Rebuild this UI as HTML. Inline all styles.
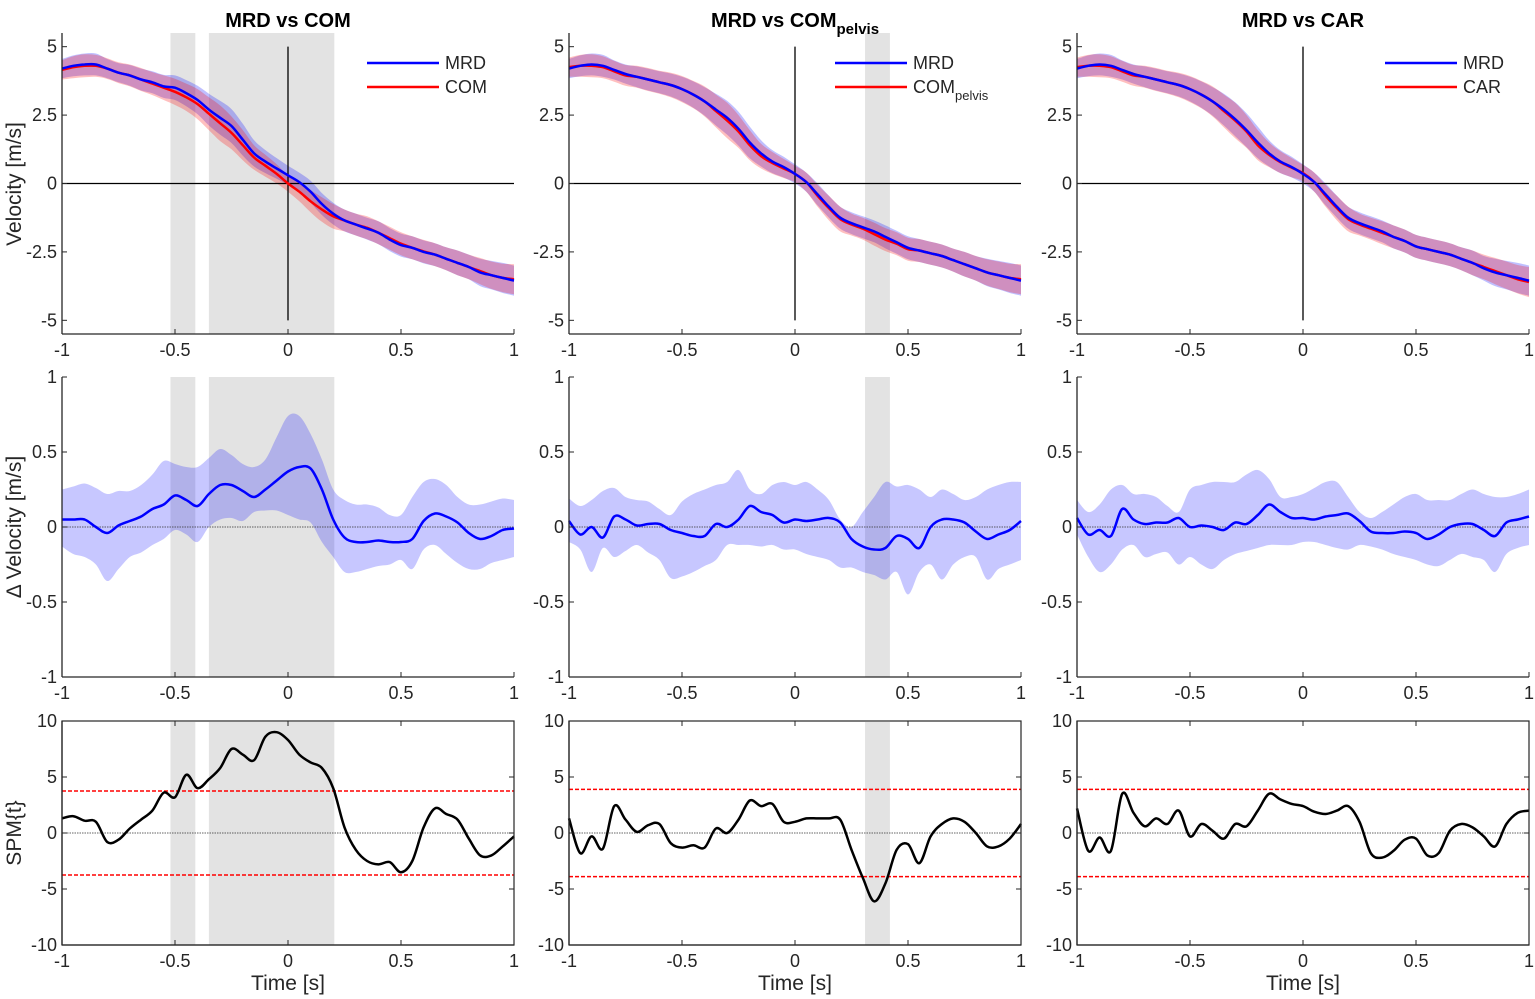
<!DOCTYPE html>
<html><head><meta charset="utf-8"><style>
html,body{margin:0;padding:0;background:#fff;}
svg{display:block;font-family:"Liberation Sans",Arial,sans-serif;}
</style></head><body>
<svg id="fig" width="1535" height="999" viewBox="0 0 1535 999"></svg>
<script>
// ===== data =====
const times = [-1,-0.95,-0.9,-0.85,-0.8,-0.75,-0.7,-0.65,-0.6,-0.55,-0.5,-0.45,-0.4,-0.35,-0.3,-0.25,-0.2,-0.15,-0.1,-0.05,0,0.05,0.1,0.15,0.2,0.25,0.3,0.35,0.4,0.45,0.5,0.55,0.6,0.65,0.7,0.75,0.8,0.85,0.9,0.95,1];
const colTitles = ["MRD vs COM","MRD vs COM","MRD vs CAR"];
const xTicks = [-1,-0.5,0,0.5,1];
const xTickLabels = ["-1","-0.5","0","0.5","1"];
const velTicks = [5,2.5,0,-2.5,-5];
const velTickLabels = ["5","2.5","0","-2.5","-5"];
const dTicks = [1,0.5,0,-0.5,-1];
const dTickLabels = ["1","0.5","0","-0.5","-1"];
const spmTicks = [10,5,0,-5,-10];
const spmTickLabels = ["10","5","0","-5","-10"];
const clusters1 = [[-0.52,-0.41],[-0.35,0.205]];
const clusters2 = [[0.31,0.42]];
const clusters3 = [];
const thresholds = [3.75,3.9,3.9];

const mrd1 = [4.2,4.3,4.35,4.35,4.2,4.05,3.95,3.8,3.7,3.55,3.5,3.3,3.05,2.7,2.4,2.1,1.6,1.1,0.8,0.55,0.3,0.05,-0.3,-0.75,-1.1,-1.35,-1.5,-1.65,-1.8,-2.05,-2.25,-2.35,-2.5,-2.6,-2.75,-2.9,-3.05,-3.25,-3.35,-3.45,-3.55];
const com1 = [4.15,4.25,4.3,4.3,4.2,4.05,3.95,3.8,3.65,3.5,3.35,3.15,2.9,2.55,2.2,1.85,1.4,0.95,0.65,0.35,0.0,-0.3,-0.65,-0.95,-1.2,-1.35,-1.5,-1.62,-1.8,-2.0,-2.2,-2.35,-2.48,-2.6,-2.75,-2.9,-3.05,-3.2,-3.35,-3.45,-3.5];
const mrd2 = [4.2,4.3,4.35,4.3,4.15,4.0,3.9,3.8,3.7,3.6,3.45,3.25,3.0,2.7,2.4,2.0,1.5,1.1,0.8,0.6,0.35,0.05,-0.4,-0.85,-1.25,-1.45,-1.6,-1.75,-1.95,-2.15,-2.35,-2.45,-2.55,-2.65,-2.8,-2.95,-3.1,-3.25,-3.35,-3.45,-3.55];
const pel2 = [4.25,4.3,4.3,4.25,4.1,3.95,3.9,3.8,3.7,3.6,3.45,3.25,3.0,2.65,2.3,1.9,1.4,1.0,0.75,0.55,0.35,0.05,-0.45,-0.9,-1.3,-1.5,-1.65,-1.85,-2.05,-2.2,-2.4,-2.45,-2.55,-2.65,-2.8,-2.95,-3.1,-3.25,-3.35,-3.45,-3.5];
const mrd3 = [4.2,4.3,4.35,4.3,4.15,4.0,3.9,3.8,3.7,3.6,3.45,3.25,3.0,2.7,2.35,1.95,1.5,1.1,0.8,0.6,0.35,0.05,-0.4,-0.85,-1.25,-1.45,-1.6,-1.75,-1.95,-2.1,-2.3,-2.4,-2.5,-2.6,-2.75,-2.9,-3.1,-3.25,-3.35,-3.45,-3.55];
const car3 = [4.25,4.3,4.3,4.25,4.1,3.95,3.9,3.8,3.7,3.6,3.45,3.25,3.0,2.65,2.3,1.9,1.4,1.05,0.78,0.58,0.38,0.05,-0.45,-0.9,-1.3,-1.5,-1.65,-1.8,-1.95,-2.1,-2.3,-2.4,-2.5,-2.6,-2.75,-2.9,-3.05,-3.2,-3.35,-3.5,-3.6];
const sdA = [0.35,0.38,0.4,0.4,0.35,0.35,0.38,0.4,0.4,0.42,0.45,0.48,0.52,0.58,0.62,0.62,0.58,0.48,0.42,0.38,0.35,0.35,0.4,0.4,0.4,0.4,0.4,0.4,0.42,0.42,0.42,0.42,0.42,0.42,0.42,0.45,0.45,0.5,0.52,0.55,0.55];
const sdB = [0.35,0.4,0.42,0.4,0.38,0.38,0.4,0.42,0.42,0.45,0.48,0.5,0.55,0.6,0.65,0.6,0.55,0.45,0.4,0.35,0.3,0.35,0.4,0.45,0.45,0.4,0.4,0.42,0.42,0.42,0.42,0.42,0.42,0.42,0.42,0.45,0.45,0.48,0.5,0.52,0.55];

const d1 = [0.05,0.05,0.05,0.0,-0.04,0.01,0.04,0.07,0.12,0.15,0.21,0.18,0.14,0.22,0.28,0.28,0.24,0.2,0.25,0.31,0.37,0.4,0.39,0.25,0.05,-0.07,-0.1,-0.1,-0.09,-0.1,-0.1,-0.08,0.04,0.09,0.07,0.03,-0.04,-0.08,-0.06,-0.02,-0.01];
const d1Up = [0.25,0.27,0.29,0.26,0.22,0.24,0.24,0.28,0.35,0.44,0.42,0.4,0.4,0.46,0.52,0.48,0.42,0.4,0.45,0.6,0.74,0.74,0.62,0.45,0.25,0.18,0.15,0.15,0.13,0.08,0.08,0.2,0.3,0.32,0.28,0.2,0.15,0.15,0.17,0.19,0.18];
const d1Lo = [-0.13,-0.18,-0.2,-0.25,-0.36,-0.28,-0.2,-0.17,-0.12,-0.08,-0.02,-0.05,-0.1,0,0.05,0.06,0.04,0.1,0.11,0.11,0.08,0.05,0.03,-0.1,-0.2,-0.3,-0.3,-0.28,-0.26,-0.25,-0.22,-0.28,-0.15,-0.12,-0.18,-0.24,-0.28,-0.28,-0.24,-0.22,-0.2];
const d2 = [0.04,-0.05,0,-0.07,0.07,0.05,0.01,0.02,0.02,-0.02,-0.04,-0.06,-0.06,0.02,0.0,0.05,0.14,0.1,0.08,0.03,0.05,0.04,0.05,0.06,0.03,-0.08,-0.13,-0.15,-0.14,-0.06,-0.08,-0.14,0.0,0.05,0.05,0.03,-0.03,-0.08,-0.05,-0.02,0.04];
const d2Up = [0.19,0.14,0.18,0.24,0.26,0.2,0.18,0.17,0.12,0.08,0.17,0.22,0.25,0.28,0.3,0.38,0.25,0.22,0.28,0.3,0.28,0.3,0.25,0.18,0.05,0.0,0.1,0.2,0.3,0.27,0.28,0.25,0.2,0.25,0.22,0.18,0.2,0.25,0.28,0.3,0.3];
const d2Lo = [-0.1,-0.15,-0.3,-0.14,-0.2,-0.16,-0.12,-0.17,-0.22,-0.34,-0.33,-0.3,-0.26,-0.22,-0.12,-0.12,-0.12,-0.13,-0.12,-0.15,-0.15,-0.18,-0.2,-0.22,-0.27,-0.27,-0.3,-0.32,-0.35,-0.3,-0.45,-0.3,-0.25,-0.35,-0.25,-0.2,-0.2,-0.35,-0.28,-0.25,-0.22];
const d3 = [0.06,-0.05,-0.02,-0.06,0.12,0.05,0.02,0.03,0.03,0.06,0.0,0.01,0.0,-0.02,0.03,0.02,0.08,0.15,0.1,0.06,0.06,0.05,0.07,0.08,0.09,0.04,-0.03,-0.04,-0.04,-0.03,-0.04,-0.08,-0.05,0.0,0.02,0.02,-0.02,-0.06,0.03,0.05,0.07];
const d3Up = [0.18,0.1,0.15,0.25,0.28,0.22,0.22,0.2,0.14,0.1,0.25,0.28,0.3,0.3,0.3,0.35,0.38,0.32,0.2,0.2,0.22,0.26,0.3,0.3,0.2,0.1,0.06,0.1,0.15,0.2,0.22,0.18,0.18,0.18,0.22,0.25,0.22,0.2,0.2,0.22,0.25];
const d3Lo = [-0.05,-0.2,-0.3,-0.25,-0.15,-0.12,-0.2,-0.18,-0.17,-0.25,-0.2,-0.25,-0.28,-0.22,-0.18,-0.16,-0.14,-0.12,-0.12,-0.12,-0.1,-0.1,-0.12,-0.14,-0.15,-0.12,-0.13,-0.15,-0.18,-0.2,-0.22,-0.25,-0.26,-0.22,-0.18,-0.2,-0.22,-0.3,-0.18,-0.14,-0.12];

const spm1 = [1.3,1.5,1.1,1.0,-0.8,-0.6,0.4,1.2,2.0,3.6,3.2,5.2,4.0,4.8,5.8,7.5,7.0,6.5,8.6,9.0,8.3,7.0,6.3,5.8,4.0,0.5,-1.5,-2.5,-2.8,-2.6,-3.5,-2.5,0.5,2.2,1.7,1.2,-0.5,-2.0,-2.0,-1.2,-0.3];
const spm2 = [1.3,-1.8,-0.3,-1.4,2.4,1.2,0.1,0.7,0.8,-0.9,-1.3,-1.1,-1.3,0.4,0.0,1.2,2.9,2.4,2.6,1.0,1.0,1.3,1.3,1.3,1.2,-1.5,-4.0,-6.1,-4.5,-1.5,-1.0,-2.7,-0.3,0.8,1.3,1.0,0.0,-1.2,-1.2,-0.5,0.8];
const spm3 = [2.2,-1.6,-0.4,-1.6,3.5,1.8,0.6,1.3,0.8,2.0,-0.3,0.8,0.2,-0.5,0.8,0.6,2.0,3.5,3.0,2.6,2.4,1.9,1.7,2.0,2.4,1.0,-1.8,-2.2,-1.6,-0.6,-0.5,-2.0,-1.8,0.2,0.8,0.5,-0.3,-1.2,0.8,1.8,2.0];

// ===== layout =====
const NS="http://www.w3.org/2000/svg";
const svg=document.getElementById('fig');
const colX=[62,569,1077], W=452;
function mk(tag,attrs,parent){const e=document.createElementNS(NS,tag);for(const k in attrs)e.setAttribute(k,attrs[k]);(parent||svg).appendChild(e);return e;}
function xs(c,t){return colX[c]+(t+1)/2*W;}
function smoothPath(pts){let d="M"+pts[0][0].toFixed(1)+","+pts[0][1].toFixed(1);
 for(let i=0;i<pts.length-1;i++){const p0=pts[Math.max(0,i-1)],p1=pts[i],p2=pts[i+1],p3=pts[Math.min(pts.length-1,i+2)];
  const c1=[p1[0]+(p2[0]-p0[0])/6,p1[1]+(p2[1]-p0[1])/6],c2=[p2[0]-(p3[0]-p1[0])/6,p2[1]-(p3[1]-p1[1])/6];
  d+="C"+c1[0].toFixed(1)+","+c1[1].toFixed(1)+" "+c2[0].toFixed(1)+","+c2[1].toFixed(1)+" "+p2[0].toFixed(1)+","+p2[1].toFixed(1);}
 return d;}
function lineD(c,ys,vals){return smoothPath(times.map((t,i)=>[xs(c,t),ys(vals[i])]));}
function bandD(c,ys,up,lo){const a=times.map((t,i)=>[xs(c,t),ys(up[i])]);const b=times.map((t,i)=>[xs(c,t),ys(lo[i])]).reverse();
 let d=smoothPath(a);d+="L"+smoothPath(b).slice(1);return d+"Z";}

const rows=[{top:33,bot:334,min:-5.5,max:5.5},{top:377,bot:677,min:-1,max:1},{top:721,bot:945,min:-10,max:10}];
function ysFor(r){const R=rows[r];return v=>R.bot-(v-R.min)/(R.max-R.min)*(R.bot-R.top);}
const clusters=[clusters1,clusters2,clusters3];
const mrds=[mrd1,mrd2,mrd3], others=[com1,pel2,car3];
const ds=[d1,d2,d3], dUps=[d1Up,d2Up,d3Up], dLos=[d1Lo,d2Lo,d3Lo];
const spms=[spm1,spm2,spm3];
const TXT="#262626";

for(let c=0;c<3;c++){
 for(let r=0;r<3;r++){
  const R=rows[r], ys=ysFor(r), x0=colX[c], x1=colX[c]+W;
  const g=mk('g',{});
  
  
  clusters[c].forEach((cl,k)=>{const rc=mk('rect',{x:xs(c,cl[0]),y:R.top+(r==2?1:0),width:xs(c,cl[1])-xs(c,cl[0]),height:R.bot-R.top-(r==2?1:0),fill:'#e3e3e3'},g);
   
   });
  if(r==0){
   const bm=mk('path',{d:bandD(c,ys,mrds[c].map((v,i)=>v+sdA[i]),mrds[c].map((v,i)=>v-sdA[i])),fill:'#0000ff','fill-opacity':0.25},g);
   
   
   const bo=mk('path',{d:bandD(c,ys,others[c].map((v,i)=>v+sdB[i]),others[c].map((v,i)=>v-sdB[i])),fill:'#ff0000','fill-opacity':0.25},g);
   
   
   mk('line',{x1:x0,x2:x1,y1:ys(0),y2:ys(0),stroke:'#000','stroke-width':1.3},g);
   mk('line',{x1:xs(c,0),x2:xs(c,0),y1:ys(5),y2:ys(-5),stroke:'#000','stroke-width':1.3},g);
   const lo=mk('path',{d:lineD(c,ys,others[c]),fill:'none',stroke:'#ff0000','stroke-width':2.5},g);
   
   
   const lm=mk('path',{d:lineD(c,ys,mrds[c]),fill:'none',stroke:'#0000ff','stroke-width':2.5},g);
   
   
   const lx=[x0+305,x0+266,x0+308][c];
   const lg=mk('g',{},g);
   
   
   mk('line',{x1:lx,x2:lx+72,y1:63,y2:63,stroke:'#0000ff','stroke-width':2.5},lg);
   mk('line',{x1:lx,x2:lx+72,y1:87,y2:87,stroke:'#ff0000','stroke-width':2.5},lg);
   const t1=mk('text',{x:lx+78,y:69,'font-size':18,fill:TXT},lg);t1.textContent='MRD';
   const t2=mk('text',{x:lx+78,y:93,'font-size':18,fill:TXT},lg);
   if(c==1){t2.innerHTML='COM<tspan font-size="13" dy="7">pelvis</tspan>';}else t2.textContent=c==0?'COM':'CAR';
  } else if(r==1){
   const b=mk('path',{d:bandD(c,ys,dUps[c],dLos[c]),fill:'#0000ff','fill-opacity':0.22},g);
   
   
   mk('line',{x1:x0,x2:x1,y1:ys(0),y2:ys(0),stroke:'#333','stroke-width':0.8,'stroke-dasharray':'1.5 1'},g);
   const l=mk('path',{d:lineD(c,ys,ds[c]),fill:'none',stroke:'#0000ff','stroke-width':2.5},g);
   
   
  } else {
   mk('line',{x1:x0,x2:x1,y1:ys(0),y2:ys(0),stroke:'#333','stroke-width':0.8,'stroke-dasharray':'1.5 1'},g);
   [thresholds[c],-thresholds[c]].forEach(th=>{const tl=mk('line',{x1:x0,x2:x1,y1:ys(th),y2:ys(th),stroke:'#ff0000','stroke-width':1.5,'stroke-dasharray':'4 2'},g);
    
    });
   const l=mk('path',{d:lineD(c,ys,spms[c]),fill:'none',stroke:'#000','stroke-width':2.5},g);
   
   
   mk('rect',{x:x0,y:R.top,width:W,height:R.bot-R.top,fill:'none',stroke:'#262626','stroke-width':1.2},g);
  }
  mk('line',{x1:x0,x2:x1,y1:R.bot,y2:R.bot,stroke:'#262626','stroke-width':1.3},g);
  mk('line',{x1:x0,x2:x0,y1:R.top,y2:R.bot,stroke:'#262626','stroke-width':1.3},g);
  xTicks.forEach((t,i)=>{const X=xs(c,t);mk('line',{x1:X,x2:X,y1:R.bot,y2:R.bot-5,stroke:'#262626'},g);
   if(r==2)mk('line',{x1:X,x2:X,y1:R.top,y2:R.top+5,stroke:'#262626'},g);
   const tx=mk('text',{x:X,y:R.bot+22,'font-size':18,'text-anchor':'middle',fill:TXT},g);tx.textContent=xTickLabels[i];});
  const yt=[velTicks,dTicks,spmTicks][r], yl=[velTickLabels,dTickLabels,spmTickLabels][r];
  yt.forEach((v,i)=>{const Y=ys(v);mk('line',{x1:x0,x2:x0+5,y1:Y,y2:Y,stroke:'#262626'},g);
   if(r==2)mk('line',{x1:x1,x2:x1-5,y1:Y,y2:Y,stroke:'#262626'},g);
   const tx=mk('text',{x:x0-5,y:Y+6,'font-size':18,'text-anchor':'end',fill:TXT},g);tx.textContent=yl[i];});
 }
 const tt=mk('text',{x:colX[c]+W/2,y:27,'font-size':20,'font-weight':'bold','text-anchor':'middle',fill:'#000'});
 
 
 if(c==1)tt.innerHTML='MRD vs COM<tspan font-size="15" dy="7">pelvis</tspan>';else tt.textContent=colTitles[c];
 const xl=mk('text',{x:colX[c]+W/2,y:990,'font-size':21,'text-anchor':'middle',fill:TXT});
 
 
 xl.textContent='Time [s]';
}
[["Velocity [m/s]",184,21],["\u0394 Velocity [m/s]",527,21],["SPM{t}",833,21]].forEach(a=>{
 const t=mk('text',{x:0,y:0,'font-size':a[2],'text-anchor':'middle',fill:TXT,transform:'translate(21,'+a[1]+') rotate(-90)'});
 
 
 t.textContent=a[0];});
</script>
</body></html>
